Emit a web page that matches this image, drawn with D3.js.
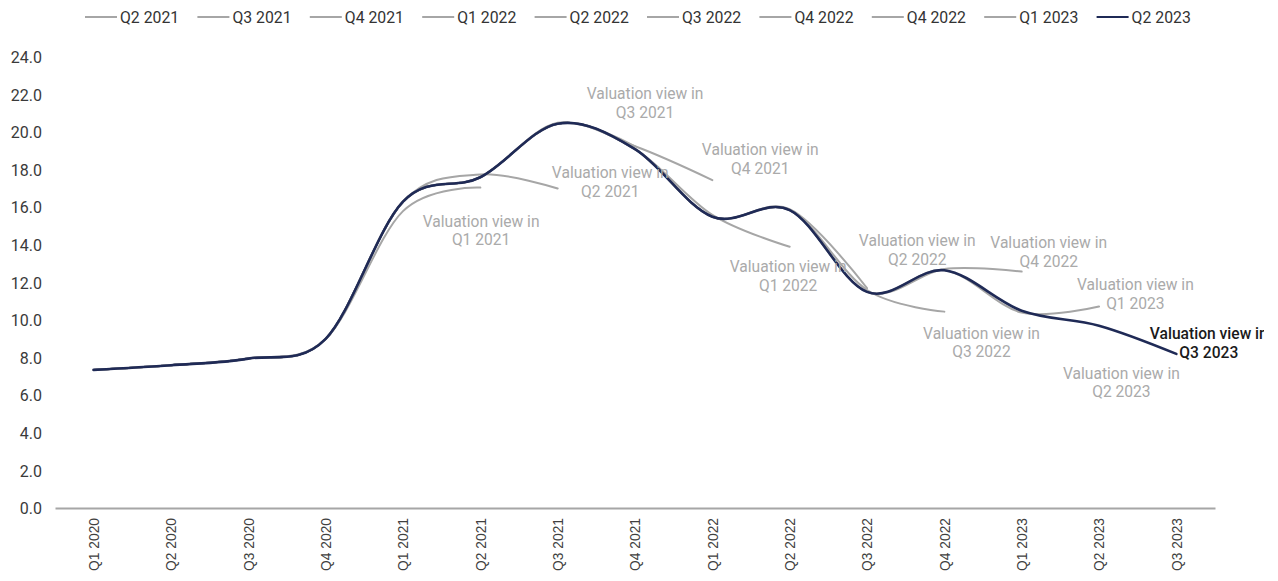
<!DOCTYPE html>
<html>
<head>
<meta charset="utf-8">
<script src="https://cdn.jsdelivr.net/npm/d3@7"></script>
<style>
  html, body { margin: 0; padding: 0; background: #fff; }
  svg { display: block; }
</style>
</head>
<body>
<svg id="chart" width="1278" height="581"></svg>
<script>
// ---------- DATA ----------
const quarters = ["Q1 2020","Q2 2020","Q3 2020","Q4 2020","Q1 2021","Q2 2021","Q3 2021","Q4 2021",
                  "Q1 2022","Q2 2022","Q3 2022","Q4 2022","Q1 2023","Q2 2023","Q3 2023"];
const yTicks = [0,2,4,6,8,10,12,14,16,18,20,22,24];
const legendLabels = ["Q2 2021","Q3 2021","Q4 2021","Q1 2022","Q2 2022","Q3 2022","Q4 2022","Q4 2022","Q1 2023","Q2 2023"];

const N = null;
const viewQ1_2021 = [7.35, 7.6, 7.95, 9.0, 15.8, 17.05, N, N, N, N, N, N, N, N, N];
const viewQ2_2021 = [7.35, 7.6, 7.95, 9.0, 16.3, 17.75, 17.0, N, N, N, N, N, N, N, N];
const viewQ3_2021 = [7.35, 7.6, 7.95, 9.0, 16.3, 17.6, 20.5, 19.25, N, N, N, N, N, N, N];
const viewQ4_2021 = [7.35, 7.6, 7.95, 9.0, 16.3, 17.6, 20.45, 19.25, 17.45, N, N, N, N, N, N];
const viewQ1_2022 = [7.35, 7.6, 7.95, 9.0, 16.3, 17.6, 20.45, 19.1, 15.6, 13.9, N, N, N, N, N];
const viewQ2_2022 = [7.35, 7.6, 7.95, 9.0, 16.3, 17.6, 20.45, 19.1, 15.5, 15.9, 11.7, N, N, N, N];
const viewQ3_2022 = [7.35, 7.6, 7.95, 9.0, 16.3, 17.6, 20.45, 19.1, 15.5, 15.85, 11.6, 10.45, N, N, N];
const viewQ4_2022 = [7.35, 7.6, 7.95, 9.0, 16.3, 17.6, 20.45, 19.1, 15.5, 15.85, 11.5, 12.72, 12.58, N, N];
const viewQ1_2023 = [7.35, 7.6, 7.95, 9.0, 16.3, 17.6, 20.45, 19.1, 15.5, 15.85, 11.5, 12.65, 10.4, 10.72, N];
const viewQ2_2023 = [7.35, 7.6, 7.95, 9.0, 16.3, 17.6, 20.45, 19.1, 15.5, 15.85, 11.5, 12.65, 10.5, 9.7, 8.2];

const grayViews = [viewQ1_2021, viewQ2_2021, viewQ3_2021, viewQ4_2021, viewQ1_2022,
                   viewQ2_2022, viewQ3_2022, viewQ4_2022, viewQ1_2023];

// annotation labels: text, anchor in data space (quarter index, value)
const annoLabels = ["Q1 2021","Q2 2021","Q3 2021","Q4 2021","Q1 2022","Q2 2022","Q3 2022","Q4 2022","Q1 2023","Q2 2023","Q3 2023"];
const annoIdx    = [5.01, 6.68, 7.13, 8.62, 8.98, 10.65, 11.48, 12.35, 13.47, 13.29, 14.42];
const annoVal    = [15.27, 17.83, 22.03, 19.05, 12.83, 14.21, 9.31, 14.10, 11.87, 7.18, 9.26];

// ---------- LAYOUT ----------
const svg = d3.select("#chart");
const GRAY = "#a6a6a6", NAVY = "#1f2a56";

const x = d3.scalePoint().domain(quarters).range([55, 1215]).padding(0.5);
const xi = d3.scaleLinear().domain([0, quarters.length - 1])
  .range([x(quarters[0]), x(quarters[quarters.length - 1])]);
const y = d3.scaleLinear().domain([0, 24]).range([508, 57]);

svg.append("defs").append("clipPath").attr("id", "clipR")
  .append("rect").attr("x", 0).attr("y", 0).attr("width", 1264).attr("height", 581);

// Y axis labels (no line)
const yAxis = d3.axisLeft(y).tickValues(yTicks).tickFormat(d3.format(".1f")).tickSize(0).tickPadding(0);
const gy = svg.append("g").attr("transform", "translate(42,0)").call(yAxis);
gy.select(".domain").remove();
gy.selectAll("text").attr("font-family", "Roboto, sans-serif").attr("font-size", "16px")
  .attr("fill", "#3a3a3a").attr("dy", "0.35em");

// X axis
const xAxis = d3.axisBottom(x).tickSize(0).tickPadding(0);
const gx = svg.append("g").attr("transform", "translate(0,508)").call(xAxis);
gx.select(".domain").attr("stroke", GRAY).attr("stroke-width", 2);
gx.selectAll("text")
  .attr("font-family", "'Liberation Sans', Arial, sans-serif").attr("font-size", "13.8px")
  .attr("fill", "#404040")
  .attr("text-anchor", "end")
  .attr("transform", "translate(0,10) rotate(-90)")
  .attr("x", 0).attr("y", 0).attr("dy", "0.35em");

// Lines
const line = d3.line()
  .defined(d => d != null)
  .x((d, i) => x(quarters[i]))
  .y(d => y(d))
  .curve(d3.curveCatmullRom.alpha(0));

const gLines = svg.append("g").attr("fill", "none").attr("stroke-linecap", "round");
grayViews.forEach(s => {
  gLines.append("path").datum(s).attr("d", line).attr("stroke", GRAY).attr("stroke-width", 2);
});
gLines.append("path").datum(viewQ2_2023).attr("d", line).attr("stroke", NAVY).attr("stroke-width", 2.6);

// Annotations
const gA = svg.append("g").attr("clip-path", "url(#clipR)")
  .attr("font-family", "Roboto, sans-serif").attr("font-size", "15.6px").attr("text-anchor", "middle");
annoLabels.forEach((lab, i) => {
  const last = i === annoLabels.length - 1;
  const t = gA.append("text")
    .attr("x", xi(annoIdx[i])).attr("y", y(annoVal[i]))
    .attr("fill", last ? "#1a1a1a" : "#aaaaaa")
    .attr("font-weight", last ? 500 : 400);
  t.append("tspan").attr("x", xi(annoIdx[i])).attr("dy", "0.35em").text("Valuation view in");
  t.append("tspan").attr("x", xi(annoIdx[i])).attr("dy", "1.2em").text(lab);
});

// Legend
const gL = svg.append("g").attr("font-family", "Roboto, sans-serif").attr("font-size", "15.8px");
legendLabels.forEach((lab, i) => {
  const lx = 85 + 112.4 * i;
  const col = i === legendLabels.length - 1 ? NAVY : GRAY;
  gL.append("line").attr("x1", lx).attr("x2", lx + 32).attr("y1", 17).attr("y2", 17)
    .attr("stroke", col).attr("stroke-width", 2);
  gL.append("text").attr("x", lx + 35).attr("y", 17).attr("dy", "0.35em")
    .attr("fill", "#333").text(lab);
});
</script>
</body>
</html>
